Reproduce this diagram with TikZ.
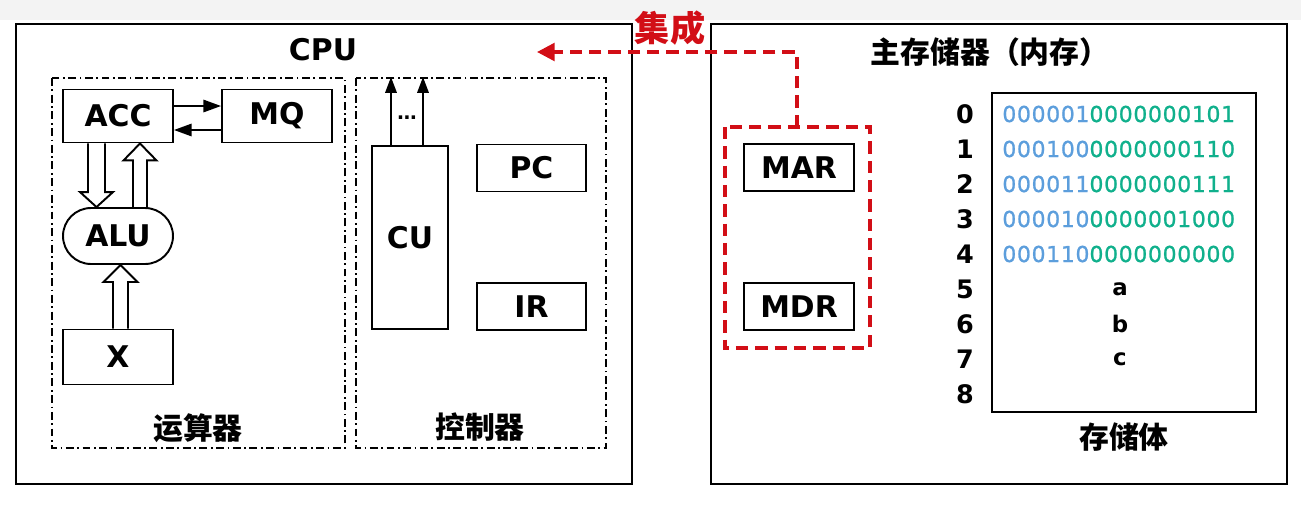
\documentclass[tikz,border=0pt]{standalone}
\usepackage{fontspec}
\setmainfont{DejaVu Sans}
\newfontfamily\cjk{Noto Sans CJK SC}
\newfontfamily\wordfont{DejaVu Sans}[FakeBold=1,LetterSpace=3]
\usepackage{xcolor}
\usetikzlibrary{arrows.meta,calc}
\definecolor{intred}{RGB}{210,14,22}
\definecolor{opblue}{RGB}{92,158,220}
\definecolor{adgreen}{RGB}{16,176,140}
\definecolor{topgray}{RGB}{243,243,243}

% hollow wide arrow: tail, tip, shaft half width, head half width, head length
\newcommand\fatarrow[5]{%
  \draw[line width=1.1pt,line join=miter] let \p1=(#1), \p2=(#2), \n1={ifthenelse(\y2>\y1,1,-1)} in
    (\x1-#3,\y1) -- (\x1-#3,\y2-\n1*#5) -- (\x1-#4,\y2-\n1*#5) -- (\x2,\y2)
    -- (\x1+#4,\y2-\n1*#5) -- (\x1+#3,\y2-\n1*#5) -- (\x1+#3,\y1);}

\begin{document}
\begin{tikzpicture}[x=0.02cm,y=-0.02cm,
  reg/.style={draw,line width=1.1pt,inner sep=0pt,minimum width=2.2cm,minimum height=0.94cm,
    font=\fontsize{17}{19}\selectfont\bfseries},
  title/.style={font=\fontsize{17}{20}\selectfont\bfseries},
  zh/.style={font=\cjk\fontsize{17}{20}\selectfont\bfseries},
  frame/.style={line width=1.3pt},
  unitbox/.style={line width=0.8pt,dash pattern=on 4.5pt off 2pt on 1pt off 2pt},
  integ/.style={intred,line width=2pt,dash pattern=on 7pt off 4pt},
  link/.style={line width=1.1pt,-{Triangle[length=10pt,width=7pt]}},
  rownum/.style={font=\fontsize{14.5}{16}\selectfont\bfseries},
  word/.style={anchor=west,inner sep=0pt,font=\wordfont\fontsize{12.5}{15}\selectfont}]
  \useasboundingbox (0,0) rectangle (1301,508);
  \fill[topgray] (0,0) rectangle (1301,20);
  %
  % outer frames
  \draw[frame] (16,24) rectangle (632,484);
  \draw[frame] (711,24) rectangle (1287,484);
  \node[title] (cputitle) at (323,50) {CPU};
  \node[zh] (memtitle) at (990,52) {主存储器（内存）};
  %
  % arithmetic unit
  \draw[unitbox] (52,78) rectangle (345,448);
  \node[reg,minimum height=1.06cm] (acc) at (118,116) {ACC};
  \node[reg,minimum height=1.06cm] (mq) at (277,116) {MQ};
  \node[reg,minimum height=1.12cm,rounded corners=0.56cm] (alu) at (118,236) {ALU};
  \node[reg,minimum height=1.1cm] (xreg) at (118,357) {X};
  \draw[link] ([yshift=0.2cm]acc.east) -- ([yshift=0.2cm]mq.west);
  \draw[link] ([yshift=-0.28cm]mq.west) -- ([yshift=-0.28cm]acc.east);
  \fatarrow{$(acc.south)+(-21.5,0)$}{$(alu.north)+(-21.5,0)$}{0.17cm}{0.33cm}{0.3cm}
  \fatarrow{$(alu.north)+(22,0)$}{$(acc.south)+(22,0)$}{0.14cm}{0.33cm}{0.34cm}
  \fatarrow{$(xreg.north)+(2.5,0)$}{$(alu.south)+(2.5,0)$}{0.15cm}{0.34cm}{0.34cm}
  \node[zh] (alulabel) at (198,428) {运算器};
  %
  % control unit
  \draw[unitbox] (356,78) rectangle (606,448);
  \coordinate (ctltop) at (356,77);
  \node[reg,minimum width=1.52cm,minimum height=3.66cm] (cu) at (410,237.5) {CU};
  \node[reg,minimum width=2.18cm] (pc) at (531.5,168) {PC};
  \node[reg,minimum width=2.18cm] (ir) at (531.5,306.5) {IR};
  \draw[link,-{Triangle[length=9pt,width=6.5pt]}] ([xshift=-0.38cm]cu.north) -- ([xshift=-0.38cm]cu.north |- ctltop);
  \draw[link,-{Triangle[length=9pt,width=6.5pt]}] ([xshift=0.26cm]cu.north) -- ([xshift=0.26cm]cu.north |- ctltop);
  \node[font=\fontsize{11}{12}\selectfont\bfseries] (dots) at (407,118) {\ldots};
  \node[zh] (ctllabel) at (480,427) {控制器};
  %
  % MAR / MDR, integrated into the CPU
  \draw[integ] (725,127) rectangle (870,348);
  \coordinate (regtop) at (797,127);
  \coordinate (intend) at (537,52);
  \node[reg] (mar) at (799,167.5) {MAR};
  \node[reg] (mdr) at (799,306.5) {MDR};
  \draw[integ,-{Triangle[length=10pt,width=10pt]}] (regtop) |- (intend);
  \node[zh,intred,font=\cjk\fontsize{20}{22}\selectfont\bfseries] (intlabel) at (670,28) {集成};
  %
  % storage body
  \node[draw,line width=1.1pt,minimum width=5.28cm,minimum height=6.38cm] (mem) at (1124,252.5) {};
  \foreach \i/\op/\ad in {0/000001/0000000101,1/000100/0000000110,2/000011/0000000111,
                          3/000010/0000001000,4/000110/0000000000}
    \node[word] (w\i) at (1002,114+35*\i) {\textcolor{opblue}{\op}\textcolor{adgreen}{\ad}};
  \foreach \i/\v in {5/a,6/b,7/c}
    \node[font=\fontsize{13}{15}\selectfont\bfseries] (w\i) at (1120,114+35*\i) {\v};
  \foreach \i in {0,...,8}
    \node[rownum] (n\i) at (965,114+35*\i) {\i};
  \node[zh] (memlabel) at (1124,437) {存储体};
\end{tikzpicture}
\end{document}
